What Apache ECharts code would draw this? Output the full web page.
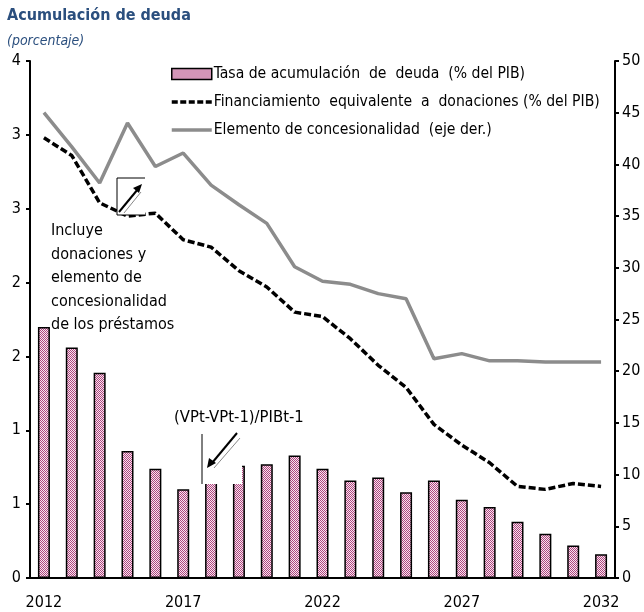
<!DOCTYPE html>
<html>
<head>
<meta charset="utf-8">
<script src="https://cdn.jsdelivr.net/npm/echarts@6/dist/echarts.min.js"></script>
<style>
html,body{margin:0;padding:0;background:#fff;}
#chart{width:644px;height:612px;}
</style>
</head>
<body>
<div id="chart"></div>
<script>
var years = ['2012','2013','2014','2015','2016','2017','2018','2019','2020','2021','2022','2023','2024','2025','2026','2027','2028','2029','2030','2031','2032'];
var tasaAcumulacion = [1.70,1.56,1.39,0.86,0.74,0.60,0.70,0.76,0.77,0.83,0.74,0.66,0.68,0.58,0.66,0.53,0.48,0.38,0.30,0.22,0.16];
var financiamientoDonaciones = [2.98,2.86,2.54,2.45,2.47,2.29,2.24,2.08,1.97,1.80,1.77,1.62,1.44,1.29,1.04,0.90,0.78,0.62,0.60,0.64,0.62];
var elementoConcesionalidad = [45.0,41.7,38.2,44.0,39.8,41.1,38.0,36.1,34.3,30.1,28.7,28.4,27.5,27.0,21.2,21.7,21.0,21.0,20.9,20.9,20.9];
var leftTicks = [0,0.5,1,1.5,2,2.5,3,3.5];
var rightTicks = [0,5,10,15,20,25,30,35,40,45,50];

var FONT = '"Liberation Sans Narrow","Arial Narrow","DejaVu Sans Condensed",sans-serif';

// checkered pattern for bars
var pc = document.createElement('canvas');
pc.width = 2; pc.height = 2;
var pctx = pc.getContext('2d');
pctx.fillStyle = '#f6e6f0'; pctx.fillRect(0,0,2,2);
pctx.fillStyle = '#b0457e'; pctx.fillRect(0,0,1,1); pctx.fillRect(1,1,1,1);
var pattern = {image: pc, repeat: 'repeat'};

var NAME_BAR = 'Tasa de acumulación  de  deuda  (% del PIB)';
var NAME_DASH = 'Financiamiento  equivalente  a  donaciones (% del PIB)';
var NAME_GRAY = 'Elemento de concesionalidad  (eje der.)';

var chart = echarts.init(document.getElementById('chart'), null, {renderer:'canvas'});
var option = {
  animation: false,
  backgroundColor: '#fff',
  title: [
    {text: 'Acumulación de deuda', left: 2, top: 3,
     textStyle: {fontFamily: FONT, fontWeight: 'bold', fontSize: 16, color: '#2b4f7e'}},
    {text: '(porcentaje)', left: 2, top: 29,
     textStyle: {fontFamily: FONT, fontStyle: 'italic', fontWeight: 'normal', fontSize: 14, color: '#2b4f7e'}}
  ],
  legend: {
    orient: 'vertical', left: 170, top: 66, padding: 0,
    itemWidth: 40, itemHeight: 11, itemGap: 12,
    textStyle: {fontFamily: FONT, fontSize: 15.6, color: '#000', padding: [0,0,0,-3]},
    data: [
      {name: NAME_BAR, icon: 'rect', itemStyle: {color: pattern, borderColor: '#000', borderWidth: 1.5}},
      {name: NAME_DASH, itemStyle: {color: 'rgba(0,0,0,0)', borderWidth: 0, opacity: 0},
       lineStyle: {color: '#000', width: 3.5, type: [6,2.5], opacity: 1}},
      {name: NAME_GRAY, itemStyle: {color: 'rgba(0,0,0,0)', borderWidth: 0, opacity: 0},
       lineStyle: {color: '#8c8c8c', width: 3.5, opacity: 1}}
    ]
  },
  grid: {left: 30, right: 29, top: 61, bottom: 34, containLabel: false},
  xAxis: {
    type: 'category', data: years, boundaryGap: true,
    axisLine: {lineStyle: {color: '#000', width: 2}},
    axisTick: {interval: 4, length: 5, lineStyle: {color: '#000', width: 2}},
    axisLabel: {interval: 4, fontFamily: FONT, fontSize: 16, color: '#000', margin: 17}
  },
  yAxis: [
    {type: 'value', min: 0, max: 3.5, interval: 0.5, position: 'left',
     splitLine: {show: false},
     axisLine: {show: true, lineStyle: {color: '#000', width: 2}},
     axisTick: {show: true, length: 4, lineStyle: {color: '#000', width: 2}},
     axisLabel: {fontFamily: FONT, fontSize: 16, color: '#000', margin: 9,
       formatter: function(v){ return String(Math.round(v)); }}},
    {type: 'value', min: 0, max: 50, interval: 5, position: 'right',
     splitLine: {show: false},
     axisLine: {show: true, lineStyle: {color: '#000', width: 2}},
     axisTick: {show: true, length: 4, lineStyle: {color: '#000', width: 2}},
     axisLabel: {fontFamily: FONT, fontSize: 16, color: '#000', margin: 7}}
  ],
  series: [
    {name: NAME_BAR, type: 'bar', yAxisIndex: 0,
     data: tasaAcumulacion, barWidth: 12, z: 1,
     itemStyle: {color: pattern, borderColor: '#000', borderWidth: 1.5}},
    {name: NAME_DASH, type: 'line', yAxisIndex: 0,
     data: financiamientoDonaciones, symbol: 'none', z: 3,
     lineStyle: {color: '#000', width: 3.5, type: [7,3]}, itemStyle: {color: '#000'}},
    {name: NAME_GRAY, type: 'line', yAxisIndex: 1,
     data: elementoConcesionalidad, symbol: 'none', z: 2,
     lineStyle: {color: '#8c8c8c', width: 3.5}, itemStyle: {color: '#8c8c8c'}}
  ],
  graphic: [
    {type: 'text', left: 51, top: 219, z: 10,
     style: {text: 'Incluye\ndonaciones y\nelemento de\nconcesionalidad\nde los préstamos',
       font: '16px ' + FONT, fill: '#000', lineHeight: 23.6}},
    {type: 'text', left: 174, top: 409, z: 10,
     style: {text: '(VPt-VPt-1)/PIBt-1', font: '16.5px ' + FONT, fill: '#000'}},
    // box 1
    {type: 'rect', shape: {x: 117, y: 178, width: 28, height: 37}, z: 10,
     style: {fill: '#fff', stroke: null}},
    {type: 'polyline', shape: {points: [[145,178],[117,178],[117,215],[145,215]]}, z: 11,
     style: {stroke: '#000', lineWidth: 1, fill: null}},
    {type: 'line', shape: {x1: 119, y1: 212, x2: 138, y2: 189}, z: 11,
     style: {stroke: '#000', lineWidth: 2}},
    {type: 'polygon', shape: {points: [[142,184],[133,188],[139,193]]}, z: 11,
     style: {fill: '#000'}},
    {type: 'line', shape: {x1: 124, y1: 213, x2: 141, y2: 192}, z: 11,
     style: {stroke: '#888', lineWidth: 1}},
    // box 2
    {type: 'rect', shape: {x: 202, y: 433, width: 40, height: 51}, z: 10,
     style: {fill: '#fff', stroke: null}},
    {type: 'line', shape: {x1: 202, y1: 434, x2: 202, y2: 484}, z: 11,
     style: {stroke: '#000', lineWidth: 1}},
    {type: 'line', shape: {x1: 237, y1: 433, x2: 212, y2: 463}, z: 11,
     style: {stroke: '#000', lineWidth: 2}},
    {type: 'polygon', shape: {points: [[207,468],[209,458],[216,463]]}, z: 11,
     style: {fill: '#000'}},
    {type: 'line', shape: {x1: 240, y1: 438, x2: 214, y2: 468}, z: 11,
     style: {stroke: '#888', lineWidth: 1}}
  ]
};
chart.setOption(option);
</script>
</body>
</html>
